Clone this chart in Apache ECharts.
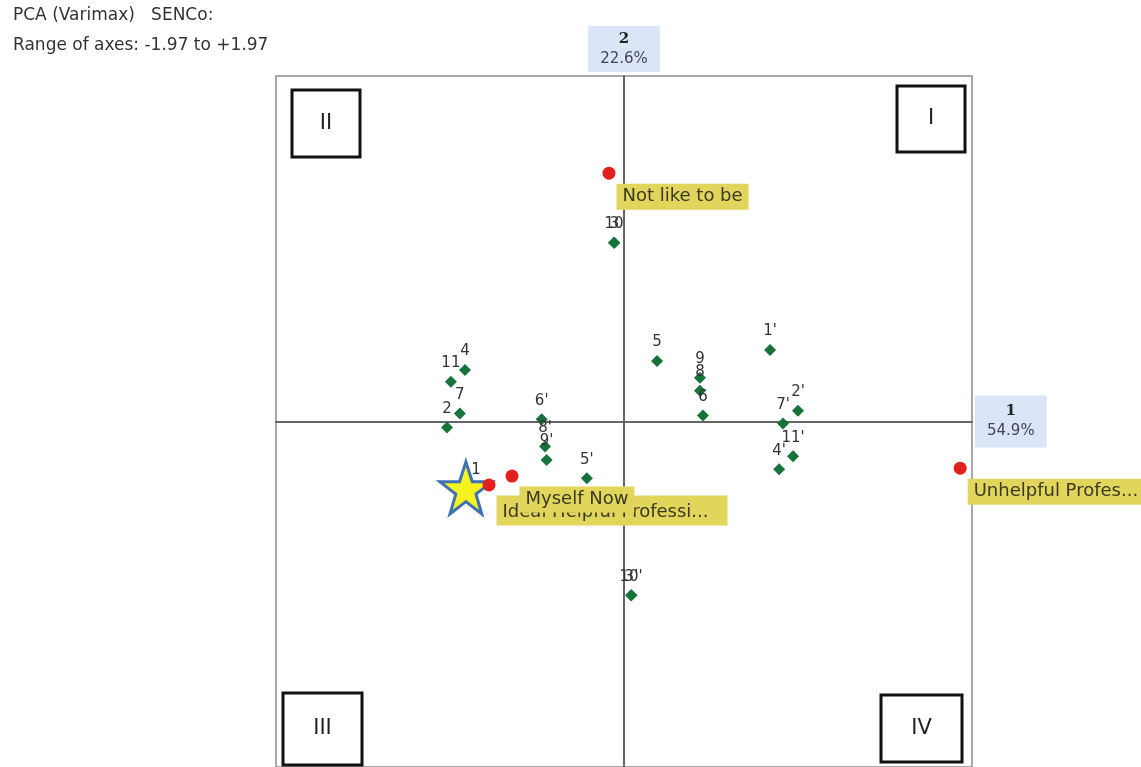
<!DOCTYPE html>
<html>
<head>
<meta charset="utf-8">
<script src="https://cdn.jsdelivr.net/npm/echarts@6/dist/echarts.min.js"></script>
<style>html,body{margin:0;padding:0;background:#fff}</style>
</head>
<body>
<div id="chart" style="width:1141px;height:767px"></div>
<script>
// construct poles (green diamonds)
var constructLabels = ['4', '11', '7', '2', "6'", "8'", "9'", "5'", '1', '10', '3', "10'", "3'",
  '5', '9', '8', '6', "1'", "2'", "7'", "11'", "4'"];
var constructX = [-0.900, -0.980, -0.929, -1.002, -0.466, -0.447, -0.438, -0.210, -0.838, -0.057, -0.054, 0.040, 0.042,
  0.187, 0.430, 0.430, 0.447, 0.827, 0.985, 0.900, 0.957, 0.878];
var constructY = [0.294, 0.226, 0.045, -0.034, 0.013, -0.142, -0.219, -0.323, -0.385, 1.019, 1.019, -0.991, -0.991,
  0.345, 0.249, 0.176, 0.034, 0.408, 0.062, -0.011, -0.198, -0.272];

// elements (red dots)
var elementNames = ['Not like to be', 'Unhelpful Professional', 'Ideal Helpful Professional', 'Myself Now'];
var elementX = [-0.085, 1.903, -0.764, -0.634];
var elementY = [1.416, -0.266, -0.362, -0.311];
var elementLabelWidth = [null, 172, 219, null];

// the star
var starPoint = [-0.895, -0.379];

var axisRange = 1.97;

var chart = echarts.init(document.getElementById('chart'));

var constructData = constructLabels.map(function (l, i) {
  return { name: l, value: [constructX[i], constructY[i]] };
});
var elementData = elementNames.map(function (n, i) {
  var d = { name: n, value: [elementX[i], elementY[i]] };
  if (elementLabelWidth[i]) {
    d.label = { width: elementLabelWidth[i], overflow: 'truncate', ellipsis: '...' };
  }
  if (i === 2) {
    d.label.padding = [8, 6, 4, 6];
  }
  return d;
});

function quadBox(x, y, w, h, txt) {
  return {
    type: 'group',
    children: [
      { type: 'rect', shape: { x: x, y: y, width: w, height: h },
        style: { fill: '#fff', stroke: '#111', lineWidth: 3 } },
      { type: 'text', x: x + w / 2, y: y + h / 2,
        style: { text: txt, fill: '#222', font: '21px "DejaVu Sans"', align: 'center', verticalAlign: 'middle' } }
    ]
  };
}

var option = {
  animation: false,
  backgroundColor: '#fff',
  title: {
    text: 'PCA (Varimax)   SENCo:\nRange of axes: -1.97 to +1.97',
    left: 8,
    top: -4,
    textStyle: { fontFamily: 'DejaVu Sans', fontSize: 17, fontWeight: 'normal', color: '#333', lineHeight: 30 }
  },
  grid: {
    left: 276, top: 76, width: 696, height: 696,
    show: true, borderColor: '#a8a8a8', borderWidth: 2
  },
  xAxis: {
    type: 'value', min: -axisRange, max: axisRange,
    name: '{a|1}\n{b|54.9%}',
    nameLocation: 'end', nameGap: 3,
    nameTextStyle: {
      backgroundColor: '#dbe5f8', padding: [6, 12, 6, 12], align: 'left',
      rich: {
        a: { fontFamily: 'DejaVu Serif', fontWeight: 'bold', fontSize: 15, color: '#222', align: 'center', lineHeight: 20 },
        b: { fontFamily: 'DejaVu Sans', fontSize: 15, color: '#445', align: 'center', lineHeight: 20 }
      }
    },
    axisLine: { onZero: true, lineStyle: { color: '#666', width: 2 } },
    axisTick: { show: false }, axisLabel: { show: false }, splitLine: { show: false }
  },
  yAxis: {
    type: 'value', min: -axisRange, max: axisRange,
    name: '{a|2}\n{b|22.6%}',
    nameLocation: 'end', nameGap: 4,
    nameTextStyle: {
      backgroundColor: '#dbe5f8', padding: [3, 12, 3, 12],
      rich: {
        a: { fontFamily: 'DejaVu Serif', fontWeight: 'bold', fontSize: 15, color: '#222', align: 'center', lineHeight: 20 },
        b: { fontFamily: 'DejaVu Sans', fontSize: 15, color: '#445', align: 'center', lineHeight: 20 }
      }
    },
    axisLine: { onZero: true, lineStyle: { color: '#666', width: 2 } },
    axisTick: { show: false }, axisLabel: { show: false }, splitLine: { show: false }
  },
  graphic: [
    quadBox(292, 90, 68, 67, 'II'),
    quadBox(897, 86, 68, 66, 'I'),
    quadBox(283, 693, 79, 72, 'III'),
    quadBox(881, 695, 81, 67, 'IV')
  ],
  series: [
    {
      type: 'scatter',
      symbol: 'diamond',
      symbolSize: 12,
      itemStyle: { color: '#17733a', opacity: 1 },
      label: {
        show: true, position: 'top', distance: 5,
        formatter: '{b}',
        fontFamily: 'DejaVu Sans', fontSize: 15, color: '#333'
      },
      data: constructData
    },
    {
      type: 'scatter',
      symbol: 'path://M50,0 L61.8,35.4 L98.1,35.4 L68.7,57.3 L79.4,92.7 L50,70.8 L20.6,92.7 L31.3,57.3 L1.9,35.4 L38.2,35.4 Z',
      symbolSize: 52,
      itemStyle: { color: '#f7f31e', borderColor: '#3f72b5', borderWidth: 3, opacity: 1 },
      data: [starPoint]
    },
    {
      type: 'scatter',
      symbol: 'circle',
      symbolSize: 13,
      itemStyle: { color: '#e3201b', opacity: 1 },
      label: {
        show: true,
        position: [14, 17],
        formatter: '{b}',
        fontFamily: 'DejaVu Sans', fontSize: 18, color: '#3a3a22',
        backgroundColor: '#e2d55c', padding: [4, 6, 4, 6]
      },
      data: elementData
    }
  ]
};

chart.setOption(option);
</script>
</body>
</html>
